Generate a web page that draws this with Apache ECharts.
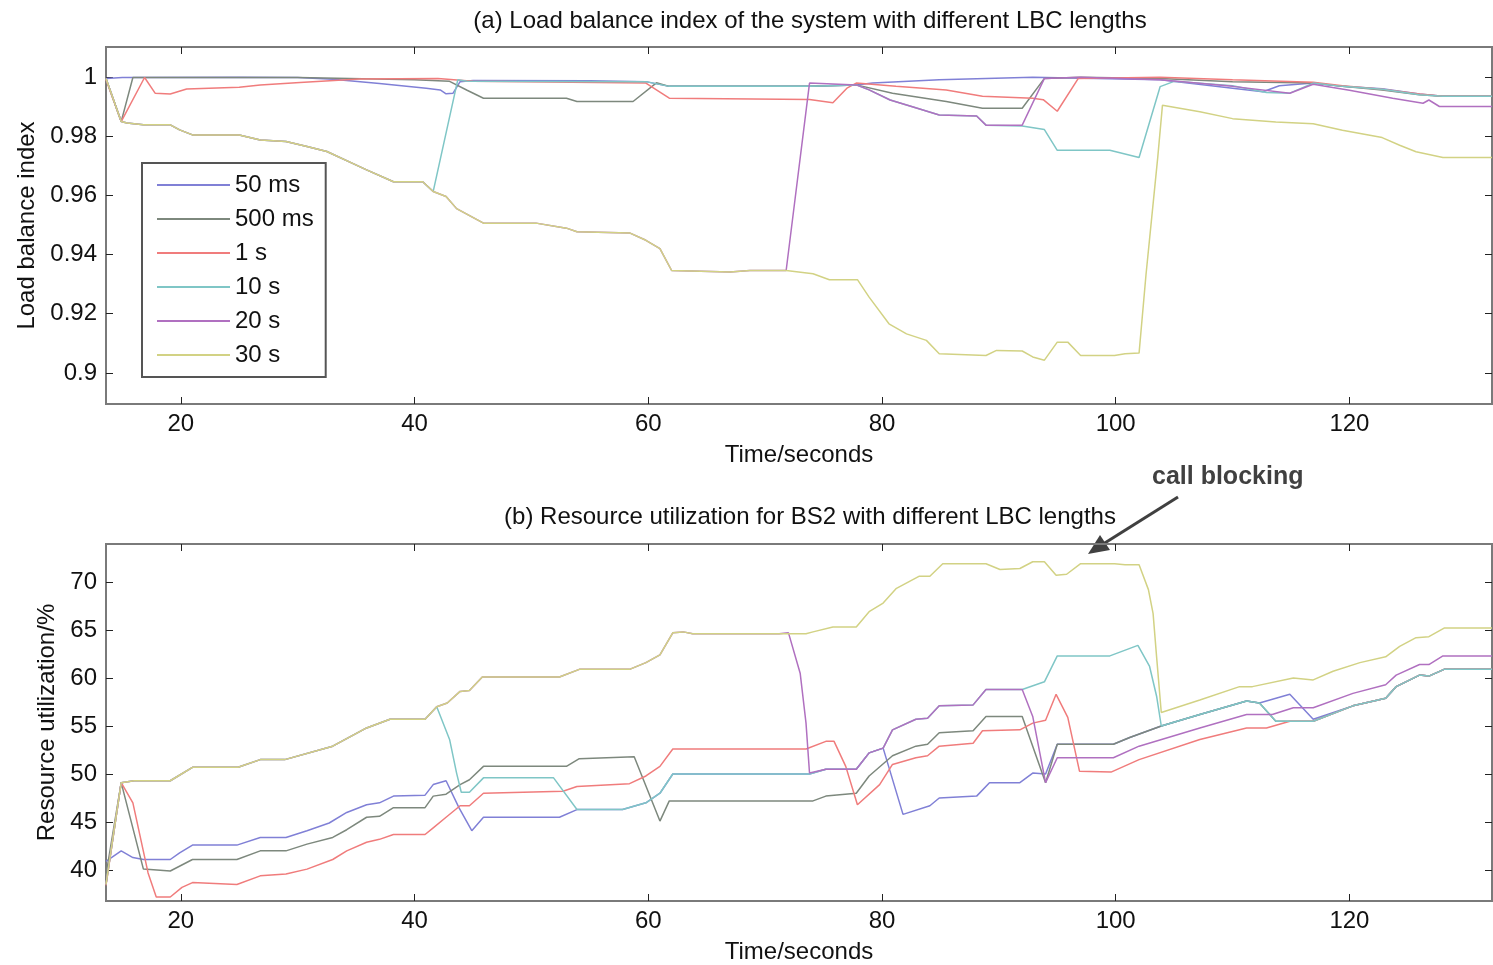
<!DOCTYPE html>
<html>
<head>
<meta charset="utf-8">
<title>LBC lengths</title>
<script src="https://cdn.jsdelivr.net/npm/echarts@6/dist/echarts.min.js"></script>
<style>
  html, body { margin: 0; padding: 0; background: #fff; }
  #main { width: 1493px; height: 965px; }
</style>
</head>
<body>
<div id="main"></div>
<script>
// ---- data ----
var seriesNames = ['50 ms', '500 ms', '1 s', '10 s', '20 s', '30 s'];
var seriesColors = ['#8080d6', '#7d887d', '#f07c7c', '#7fc6c6', '#b070c0', '#d2d284'];

var xTicks = [20, 40, 60, 80, 100, 120];
var lbTicks = [0.9, 0.92, 0.94, 0.96, 0.98, 1];
var ruTicks = [40, 45, 50, 55, 60, 65, 70];

// (a) load balance index, [time, value]
var lb50ms = [[13.6,0.9995],[15,0.9998],[25,0.9999],[30,0.9998],[33.0,0.9992],[37,0.9978],[41.0,0.9962],[42.2,0.9956],[42.7,0.9943],[43.3,0.9945],[43.9,0.9984],[45.0,0.9988],[55,0.9987],[59.8,0.9984],[61.8,0.9968],[73.8,0.9968],[77.8,0.9973],[79.2,0.9979],[84.9,0.9990],[92.9,0.9999],[103.8,0.9990],[110.0,0.9962],[112.6,0.9950],[114.0,0.9970],[116.9,0.9979],[119.4,0.9968],[122.8,0.9960],[126.0,0.9942],[128.0,0.9935],[132.2,0.9935]];
var lb500ms = [[13.6,0.9995],[14.9,0.9849],[15.9,0.9998],[30,0.9998],[40,0.9990],[43.0,0.9985],[44.5,0.9955],[45.9,0.9928],[53.0,0.9928],[53.9,0.9917],[58.7,0.9917],[60.7,0.9980],[61.8,0.9968],[73.8,0.9968],[77.8,0.9973],[80.9,0.9945],[85.5,0.9917],[88.6,0.9894],[92.0,0.9894],[93.9,0.9995],[97,0.9999],[103.8,0.9995],[110,0.9984],[116.9,0.9979],[119.4,0.9968],[122.8,0.9956],[126.0,0.9940],[128.0,0.9935],[132.2,0.9935]];
var lb1s = [[13.6,0.9990],[14.9,0.9849],[16.9,0.9998],[17.8,0.9945],[19.1,0.9942],[20.5,0.9959],[25.0,0.9965],[26.8,0.9973],[30.2,0.9981],[35.3,0.9993],[42,0.9995],[45,0.9985],[59.8,0.9979],[61.8,0.9928],[73.8,0.9924],[75.8,0.9913],[77.0,0.9962],[77.8,0.9979],[81.2,0.9968],[85.5,0.9956],[88.6,0.9935],[92.9,0.9928],[93.8,0.9923],[95.0,0.9884],[96.8,0.9995],[103.8,0.9999],[110,0.9990],[116.9,0.9982],[119.4,0.9970],[122.8,0.9958],[126.0,0.9942],[128.0,0.9935],[132.2,0.9935]];
var lb10s = [[13.6,0.9995],[14.9,0.9849],[15.4,0.9844],[16.8,0.9838],[19.1,0.9838],[19.9,0.9821],[21.0,0.9804],[25.0,0.9804],[26.8,0.9787],[29.0,0.9782],[30.8,0.9765],[32.5,0.9748],[34.7,0.9708],[35.9,0.9686],[38.2,0.9646],[40.7,0.9646],[41.6,0.9613],[43.7,0.9990],[44.5,0.9985],[59.8,0.9984],[61.8,0.9968],[73.8,0.9968],[77.8,0.9973],[78.9,0.9956],[80.7,0.9922],[82.6,0.9899],[84.9,0.9871],[88.1,0.9868],[88.9,0.9837],[92.0,0.9834],[93.9,0.9822],[95.0,0.9752],[99.5,0.9752],[102.0,0.9728],[103.8,0.9967],[105,0.9985],[110,0.9970],[112.9,0.9947],[114.9,0.9945],[116.9,0.9979],[119.4,0.9968],[122.8,0.9958],[126.0,0.9940],[128.0,0.9935],[132.2,0.9935]];
var lb20s = [[13.6,0.9995],[14.9,0.9849],[15.4,0.9844],[16.8,0.9838],[19.1,0.9838],[19.9,0.9821],[21.0,0.9804],[25.0,0.9804],[26.8,0.9787],[29.0,0.9782],[30.8,0.9765],[32.5,0.9748],[34.7,0.9708],[35.9,0.9686],[38.2,0.9646],[40.7,0.9646],[41.6,0.9613],[42.7,0.9596],[43.6,0.9555],[45.9,0.9506],[50.4,0.9506],[53.0,0.9489],[53.9,0.9477],[58.4,0.9473],[59.8,0.9448],[61.0,0.9420],[62.0,0.9346],[67.0,0.9341],[68.7,0.9346],[71.8,0.9346],[73.8,0.9979],[77.8,0.9973],[78.9,0.9956],[80.7,0.9922],[82.6,0.9899],[84.9,0.9871],[88.1,0.9868],[88.9,0.9837],[92.0,0.9837],[93.9,0.9995],[97,0.9999],[103.8,0.9990],[110.0,0.9968],[114.9,0.9945],[116.9,0.9975],[120,0.9955],[123.7,0.9928],[126.3,0.9911],[126.8,0.9922],[127.7,0.9900],[132.2,0.9900]];
var lb30s = [[13.6,0.9995],[14.9,0.9849],[15.4,0.9844],[16.8,0.9838],[19.1,0.9838],[19.9,0.9821],[21.0,0.9804],[25.0,0.9804],[26.8,0.9787],[29.0,0.9782],[30.8,0.9765],[32.5,0.9748],[34.7,0.9708],[35.9,0.9686],[38.2,0.9646],[40.7,0.9646],[41.6,0.9613],[42.7,0.9596],[43.6,0.9555],[45.9,0.9506],[50.4,0.9506],[53.0,0.9489],[53.9,0.9477],[58.4,0.9473],[59.8,0.9448],[61.0,0.9420],[62.0,0.9346],[67.0,0.9341],[68.7,0.9346],[71.8,0.9346],[74.1,0.9335],[75.5,0.9315],[77.9,0.9315],[78.9,0.9256],[80.6,0.9166],[82.1,0.9132],[83.8,0.9110],[84.9,0.9065],[88.9,0.9059],[89.8,0.9076],[92.0,0.9074],[92.9,0.9054],[93.9,0.9043],[95.0,0.9104],[95.9,0.9104],[97.0,0.9059],[99.9,0.9059],[100.8,0.9065],[102.0,0.9067],[102.6,0.9335],[103.6,0.9729],[104.0,0.9904],[107.2,0.9882],[110.0,0.9859],[113.7,0.9848],[116.9,0.9842],[119.4,0.9820],[122.8,0.9795],[124.3,0.9769],[125.7,0.9747],[128.0,0.9728],[132.2,0.9728]];

// (b) resource utilization for BS2 (%), [time, value]
var ru50ms = [[13.6,40.9],[14.9,42.0],[15.9,41.3],[16.8,41.1],[19.1,41.1],[19.9,41.8],[21.0,42.6],[24.8,42.6],[26.8,43.4],[29.0,43.4],[30.8,44.1],[32.7,44.9],[34.2,46.0],[35.9,46.8],[37.0,47.0],[38.2,47.7],[40.9,47.8],[41.6,48.9],[42.7,49.3],[43.8,46.5],[44.9,44.1],[45.9,45.5],[52.4,45.5],[53.9,46.3],[57.8,46.3],[59.8,47.0],[61.0,48.0],[62.1,50.0],[73.8,50.0],[75.2,50.5],[77.8,50.5],[78.9,52.2],[80.1,52.7],[81.8,45.8],[84.1,46.7],[84.9,47.5],[88.1,47.7],[89.2,49.1],[91.8,49.1],[92.9,50.1],[94.0,50.0],[95.0,53.1],[99.8,53.1],[101.2,53.8],[103.9,55.0],[107.2,56.2],[111.2,57.6],[112.3,57.4],[114.9,58.3],[116.9,55.7],[120.3,57.1],[123.1,57.9],[124.0,59.1],[126.0,60.3],[126.8,60.2],[128.1,60.9],[132.2,60.9]];
var ru500ms = [[13.6,39.5],[14.9,49.1],[16.8,40.1],[19.1,39.9],[21.0,41.1],[24.8,41.1],[26.8,42.0],[29.0,42.0],[30.8,42.7],[33.0,43.4],[34.2,44.2],[35.9,45.5],[37.0,45.6],[38.2,46.5],[40.9,46.5],[41.6,47.7],[42.7,47.9],[43.9,48.9],[44.7,49.4],[45.9,50.8],[53.0,50.8],[54.1,51.6],[58.8,51.8],[61.0,45.1],[61.8,47.2],[74.1,47.2],[75.2,47.7],[77.8,48.0],[78.9,49.8],[80.9,51.9],[82.9,52.9],[83.9,53.1],[84.9,54.3],[87.8,54.5],[88.9,56.0],[92.0,56.0],[94.0,49.1],[95.0,53.1],[99.8,53.1],[101.2,53.8],[103.9,55.0],[107.2,56.2],[111.2,57.6],[112.3,57.4],[113.7,55.5],[116.9,55.5],[120.3,57.1],[123.1,57.9],[124.0,59.1],[126.0,60.3],[126.8,60.2],[128.1,60.9],[132.2,60.9]];
var ru1s = [[13.6,38.4],[14.9,49.1],[15.9,47.0],[17.2,39.7],[17.9,37.2],[19.1,37.2],[20.1,38.2],[21.0,38.7],[24.8,38.5],[26.8,39.4],[29.0,39.6],[30.8,40.1],[33.0,41.1],[34.2,42.0],[35.9,42.9],[37.0,43.2],[38.2,43.7],[40.9,43.7],[41.6,44.4],[42.7,45.5],[43.9,46.7],[44.7,46.7],[45.9,48.0],[52.7,48.2],[53.9,48.7],[58.4,49.0],[59.8,49.8],[61.0,50.8],[62.1,52.6],[73.5,52.6],[75.2,53.4],[75.9,53.4],[76.9,50.8],[77.9,46.8],[79.8,48.9],[80.9,51.0],[82.9,51.7],[83.9,51.9],[84.9,52.9],[87.8,53.2],[88.6,54.5],[91.8,54.6],[92.9,55.3],[94.0,55.6],[94.9,58.3],[95.9,55.9],[96.9,50.3],[99.6,50.2],[102.0,51.5],[107.2,53.6],[111.2,54.8],[112.9,54.8],[114.9,55.5],[116.9,55.5],[120.3,57.1],[123.1,57.9],[124.0,59.1],[126.0,60.3],[126.8,60.2],[128.1,60.9],[132.2,60.9]];
var ru10s = [[13.6,38.5],[14.9,49.1],[16.0,49.3],[19.1,49.3],[21.0,50.7],[24.9,50.7],[26.8,51.5],[28.9,51.5],[33.0,52.9],[35.9,54.8],[37.9,55.7],[40.9,55.7],[41.9,57.0],[43.0,53.6],[43.6,50.1],[44.0,48.1],[44.7,48.1],[45.9,49.6],[51.9,49.6],[53.9,46.3],[57.8,46.3],[59.8,47.0],[61.0,48.0],[62.1,50.0],[73.8,50.0],[75.2,50.5],[77.8,50.5],[78.9,52.2],[80.1,52.7],[80.9,54.6],[82.9,55.7],[83.9,55.8],[84.9,57.1],[87.8,57.2],[88.9,58.8],[92.0,58.8],[93.9,59.6],[95.0,62.3],[99.5,62.3],[101.9,63.4],[102.9,61.2],[103.5,58.1],[103.9,55.0],[107.2,56.2],[111.2,57.6],[112.3,57.4],[113.7,55.5],[116.9,55.5],[120.3,57.1],[123.1,57.9],[124.0,59.1],[126.0,60.3],[126.8,60.2],[128.1,60.9],[132.2,60.9]];
var ru20s = [[13.6,38.5],[14.9,49.1],[16.0,49.3],[19.1,49.3],[21.0,50.7],[24.9,50.7],[26.8,51.5],[28.9,51.5],[33.0,52.9],[35.9,54.8],[37.9,55.7],[40.9,55.7],[41.9,57.0],[42.8,57.4],[43.9,58.6],[44.7,58.7],[45.8,60.1],[52.4,60.1],[54.1,60.9],[58.4,60.9],[59.8,61.6],[61.0,62.4],[62.1,64.7],[63.0,64.8],[63.8,64.6],[71.2,64.6],[72.0,64.7],[73.0,60.5],[73.5,55.3],[73.8,50.1],[75.2,50.5],[77.8,50.5],[78.9,52.2],[80.1,52.7],[80.9,54.6],[82.9,55.7],[83.9,55.8],[84.9,57.1],[87.8,57.2],[88.9,58.8],[92.0,58.8],[92.9,56.0],[94.0,49.1],[95.0,51.7],[99.8,51.7],[102.0,52.9],[107.2,54.8],[111.2,56.2],[113.4,56.2],[115.2,56.9],[116.9,56.9],[120.3,58.4],[123.1,59.3],[124.0,60.3],[126.0,61.4],[126.8,61.4],[128.0,62.3],[132.2,62.3]];
var ru30s = [[13.6,38.5],[14.9,49.1],[16.0,49.3],[19.1,49.3],[21.0,50.7],[24.9,50.7],[26.8,51.5],[28.9,51.5],[33.0,52.9],[35.9,54.8],[37.9,55.7],[40.9,55.7],[41.9,57.0],[42.8,57.4],[43.9,58.6],[44.7,58.7],[45.8,60.1],[52.4,60.1],[54.1,60.9],[58.4,60.9],[59.8,61.6],[61.0,62.4],[62.1,64.7],[63.0,64.8],[63.8,64.6],[71.2,64.6],[73.5,64.6],[74.1,64.8],[75.8,65.3],[77.8,65.3],[78.9,66.9],[80.1,67.8],[81.2,69.3],[83.2,70.6],[84.1,70.6],[85.2,71.9],[88.9,71.9],[90.1,71.3],[91.8,71.4],[92.9,72.1],[93.9,72.1],[94.9,70.7],[95.8,70.8],[97.0,71.9],[99.9,71.9],[100.8,71.8],[102.0,71.8],[102.8,69.2],[103.2,66.7],[103.5,62.2],[103.9,56.4],[107.2,57.7],[110.6,59.1],[111.7,59.1],[115.2,60.0],[116.9,59.8],[118.6,60.7],[120.9,61.6],[123.1,62.2],[124.3,63.3],[125.7,64.2],[126.8,64.3],[128.1,65.2],[132.2,65.2]];

var lbData = [lb50ms, lb500ms, lb1s, lb10s, lb20s, lb30s];
var ruData = [ru50ms, ru500ms, ru1s, ru10s, ru20s, ru30s];

// ---- chart ----
var FONT = "'Liberation Sans', Arial, sans-serif";
var FS = 24;
var frameColor = '#7a7a7a';
var chart = echarts.init(document.getElementById('main'));

function xAxisPair(grid) {
  var base = {
    gridIndex: grid, type: 'value', min: 13.6, max: 132.2,
    splitLine: { show: false },
    axisLine: { lineStyle: { color: frameColor, width: 2 } },
    axisTick: { inside: true, length: 7, customValues: xTicks, lineStyle: { color: '#222' } }
  };
  var bottom = Object.assign({}, base, {
    position: 'bottom',
    axisLabel: { customValues: xTicks, margin: 8, fontSize: FS, color: '#111', fontFamily: FONT },
    name: 'Time/seconds', nameLocation: 'middle', nameGap: 39,
    nameTextStyle: { fontSize: FS, color: '#111', fontFamily: FONT }
  });
  var top = Object.assign({}, base, { position: 'top', axisLabel: { show: false } });
  return [bottom, top];
}

function yAxisPair(grid, min, max, ticks, name, gap) {
  var base = {
    gridIndex: grid, type: 'value', min: min, max: max,
    splitLine: { show: false },
    axisLine: { show: true, lineStyle: { color: frameColor, width: 2 } },
    axisTick: { show: true, inside: true, length: 7, customValues: ticks, lineStyle: { color: '#222' } }
  };
  var left = Object.assign({}, base, {
    position: 'left',
    axisLabel: { customValues: ticks, margin: 9, fontSize: FS, color: '#111', fontFamily: FONT },
    name: name, nameLocation: 'middle', nameGap: gap,
    nameTextStyle: { fontSize: FS, color: '#111', fontFamily: FONT }
  });
  var right = Object.assign({}, base, { position: 'right', axisLabel: { show: false } });
  return [left, right];
}

var series = [];
seriesNames.forEach(function (nm, i) {
  series.push({
    name: nm, type: 'line', xAxisIndex: 0, yAxisIndex: 0,
    data: lbData[i], symbol: 'none', color: seriesColors[i],
    lineStyle: { width: 1.5, color: seriesColors[i] }
  });
});
seriesNames.forEach(function (nm, i) {
  series.push({
    name: nm, type: 'line', xAxisIndex: 2, yAxisIndex: 2,
    data: ruData[i], symbol: 'none', color: seriesColors[i],
    lineStyle: { width: 1.5, color: seriesColors[i] }
  });
});

chart.setOption({
  animation: false,
  backgroundColor: '#fff',
  title: [
    { text: '(a) Load balance index of the system with different LBC lengths', left: 805, top: 4, textAlign: 'center',
      textStyle: { fontSize: FS, fontWeight: 'normal', color: '#111', fontFamily: FONT } },
    { text: '(b) Resource utilization for BS2 with different LBC lengths', left: 805, top: 500, textAlign: 'center',
      textStyle: { fontSize: FS, fontWeight: 'normal', color: '#111', fontFamily: FONT } }
  ],
  grid: [
    { left: 106, right: 1, top: 47, height: 357, show: true, borderColor: frameColor, borderWidth: 2 },
    { left: 106, right: 1, top: 544, height: 358, show: true, borderColor: frameColor, borderWidth: 2 }
  ],
  xAxis: xAxisPair(0).concat(xAxisPair(1)),
  yAxis: yAxisPair(0, 0.8895, 1.0101, lbTicks, 'Load balance index', 62)
    .concat(yAxisPair(1, 36.78, 73.95, ruTicks, 'Resource utilization/%', 46)),
  legend: {
    data: seriesNames, orient: 'vertical', left: 142, top: 163,
    icon: 'rect', itemWidth: 73, itemHeight: 2, itemGap: 8,
    padding: [9, 12, 9, 15],
    borderColor: '#555', borderWidth: 2, backgroundColor: '#fff',
    textStyle: { fontSize: FS, lineHeight: 26, color: '#111', fontFamily: FONT }
  },
  graphic: [
    { type: 'text', x: 1152, y: 465,
      style: { text: 'call blocking', font: "bold 25px 'Liberation Sans', Arial, sans-serif", fill: '#404040' } },
    { type: 'line', shape: { x1: 1178, y1: 497, x2: 1100, y2: 546 },
      style: { stroke: '#404040', lineWidth: 3 } },
    { type: 'polygon', shape: { points: [[1088, 554], [1110, 550], [1100, 535]] },
      style: { fill: '#404040' } }
  ],
  series: series
});
</script>
</body>
</html>
